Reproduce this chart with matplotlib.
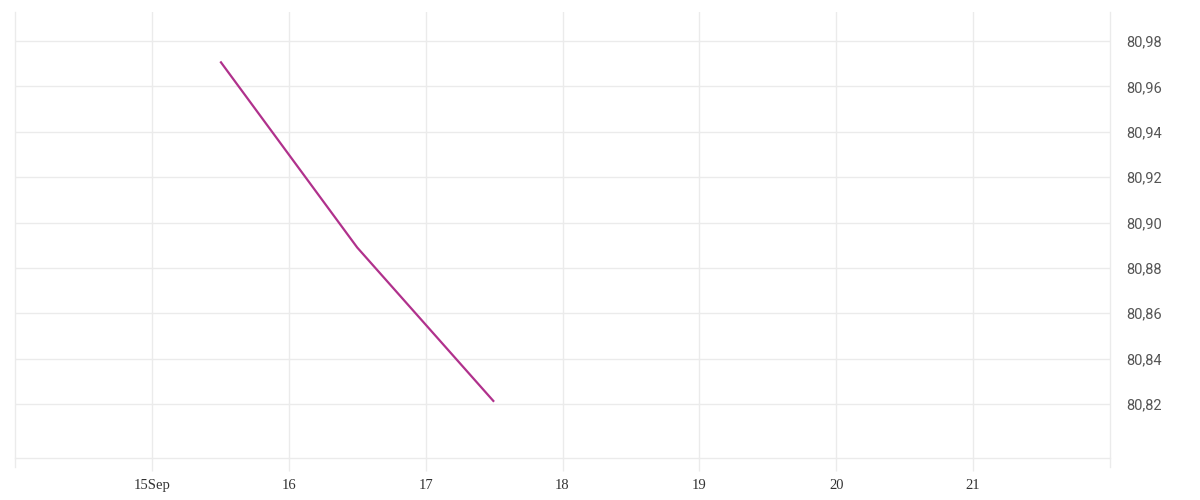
import matplotlib
matplotlib.use("Agg")
import matplotlib.pyplot as plt
from datetime import datetime

# datos
fechas = ["2023-09-15 12:00", "2023-09-16 12:00", "2023-09-17 12:00"]
valores = [80.971, 80.889, 80.821]

dias_ticks = ["2023-09-15", "2023-09-16", "2023-09-17", "2023-09-18",
              "2023-09-19", "2023-09-20", "2023-09-21"]
etiquetas_x = ["15Sep", "16", "17", "18", "19", "20", "21"]
ticks_y = [80.82, 80.84, 80.86, 80.88, 80.90, 80.92, 80.94, 80.96, 80.98]

x = [datetime.strptime(f, "%Y-%m-%d %H:%M") for f in fechas]
xt = [datetime.strptime(d, "%Y-%m-%d") for d in dias_ticks]

grid_color = "#ebebeb"

fig = plt.figure(figsize=(12, 5), dpi=100)
ax = fig.add_axes([0.0125, 0.084, 0.9125, 0.892])

ax.plot(x, valores, color="#b0318c", linewidth=1.6, solid_capstyle="butt")

ax.set_xlim(datetime(2023, 9, 14), datetime(2023, 9, 22))
ax.set_ylim(80.7962, 80.9928)

ax.set_xticks(xt)
ax.set_xticklabels(etiquetas_x, family="Liberation Serif", fontsize=10.5, color="#333333")
ax.set_yticks(ticks_y)
ax.set_yticklabels([f"{v:.2f}".replace(".", ",") for v in ticks_y],
                   family="Roboto", fontsize=10.5, color="#555555")

ax.yaxis.tick_right()
ax.tick_params(axis="y", length=0, pad=12)
ax.tick_params(axis="x", length=9, width=1, color=grid_color, pad=6)

ax.grid(True, color=grid_color, linewidth=1)
ax.set_axisbelow(True)

ax.spines["top"].set_visible(False)
for lado in ["left", "right", "bottom"]:
    ax.spines[lado].set_color(grid_color)
    ax.spines[lado].set_linewidth(1)
# los bordes laterales bajan un poco por debajo del eje
ax.spines["left"].set_bounds(80.7962 - 9 / 2268.75, 80.9928)
ax.spines["right"].set_bounds(80.7962 - 9 / 2268.75, 80.9928)
for lado in ["left", "right"]:
    ax.spines[lado].set_clip_on(False)

plt.savefig("out.png", dpi=100)
